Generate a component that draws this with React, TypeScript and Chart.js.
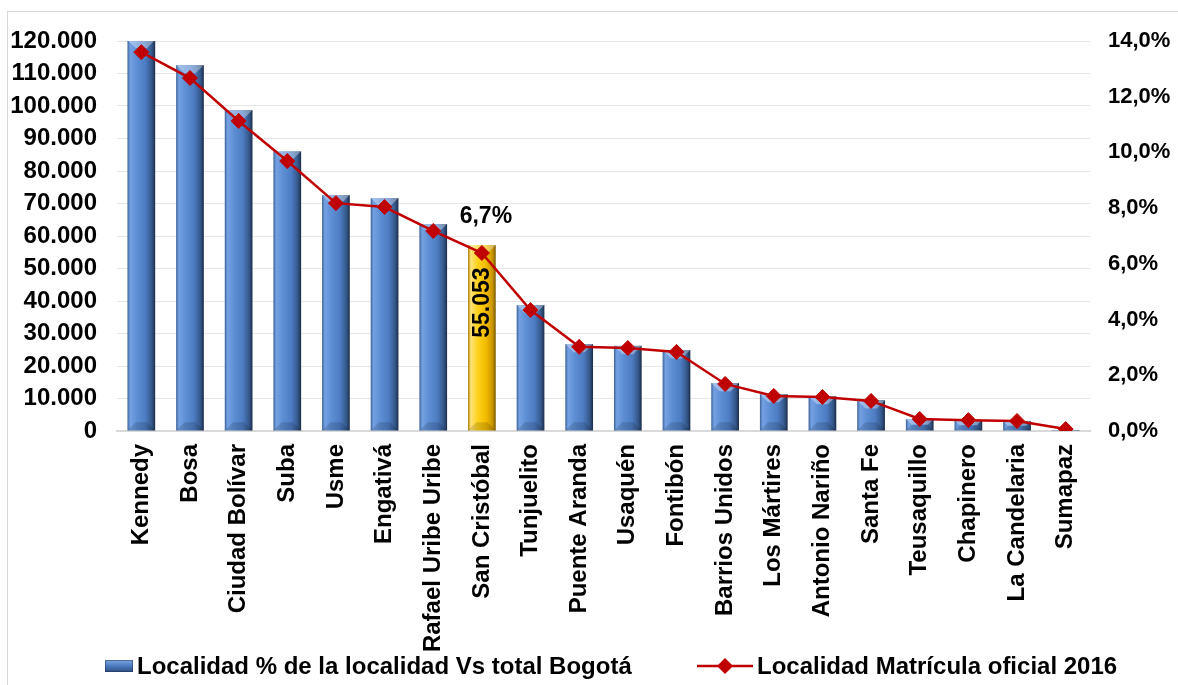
import { useEffect, useRef } from "react";
import { Chart, registerables } from "chart.js";

Chart.register(...registerables);

const categories = [
  "Kennedy", "Bosa", "Ciudad Bolívar", "Suba", "Usme", "Engativá", "Rafael Uribe Uribe",
  "San Cristóbal", "Tunjuelito", "Puente Aranda", "Usaquén", "Fontibón", "Barrios Unidos",
  "Los Mártires", "Antonio Nariño", "Santa Fe", "Teusaquillo", "Chapinero", "La Candelaria", "Sumapaz",
];
const barValues = [
  120300, 112600, 98800, 86100, 72600, 71700, 63700,
  57200, 38800, 26800, 26200, 24900, 14800,
  11400, 10800, 9500, 3700, 3400, 3100, 300,
];
const lineValues = [
  13.6, 12.67, 11.13, 9.69, 8.18, 8.04, 7.18,
  6.39, 4.34, 3.02, 2.98, 2.84, 1.69,
  1.26, 1.22, 1.08, 0.43, 0.39, 0.36, 0.07,
];
const barSeriesName = "Localidad % de la localidad Vs total Bogotá";
const lineSeriesName = "Localidad Matrícula oficial 2016";
const highlightIndex = 7;
const highlightBarLabel = "55.053";
const highlightLineLabel = "6,7%";
const leftMax = 120000;
const leftStep = 10000;
const rightMax = 14;
const rightStep = 2;

const FONT = "'Liberation Sans', Arial, sans-serif";
const BAR_PCT = 0.57;

function fmtThousands(v: number): string {
  return String(Math.round(v)).replace(/\B(?=(\d{3})+(?!\d))/g, ".");
}

function barGradient(c: CanvasRenderingContext2D, left: number, right: number, yellow: boolean) {
  const g = c.createLinearGradient(left, 0, right, 0);
  if (yellow) {
    g.addColorStop(0, "#a67c00");
    g.addColorStop(0.1, "#ffe37a");
    g.addColorStop(0.35, "#ffd21a");
    g.addColorStop(0.65, "#f2bb00");
    g.addColorStop(0.88, "#c99600");
    g.addColorStop(1, "#7a5a00");
  } else {
    g.addColorStop(0, "#3e6298");
    g.addColorStop(0.1, "#74a1e2");
    g.addColorStop(0.35, "#5d8dd4");
    g.addColorStop(0.65, "#4d7cc2");
    g.addColorStop(0.88, "#345789");
    g.addColorStop(1, "#1b2c4a");
  }
  return g;
}

const bevelPlugin = {
  id: "bevel",
  afterDatasetDraw(chart: any, args: any) {
    if (args.index !== 0) return;
    const c = chart.ctx;
    const meta = args.meta;
    c.save();
    const a = chart.chartArea;
    c.beginPath();
    c.rect(a.left, a.top, a.right - a.left, a.bottom - a.top);
    c.clip();
    meta.data.forEach((el: any) => {
      const half = el.width / 2;
      const top = el.y;
      const base = el.base;
      const h = base - top;
      const d = Math.min(half * 0.6, h / 2);
      // top chamfer
      c.beginPath();
      c.moveTo(el.x - half, top);
      c.lineTo(el.x + half, top);
      c.lineTo(el.x + half - d, top + d);
      c.lineTo(el.x - half + d, top + d);
      c.closePath();
      c.fillStyle = "rgba(255,255,255,0.35)";
      c.fill();
      // bottom chamfer
      c.beginPath();
      c.moveTo(el.x - half, base);
      c.lineTo(el.x + half, base);
      c.lineTo(el.x + half - d, base - d);
      c.lineTo(el.x - half + d, base - d);
      c.closePath();
      c.fillStyle = "rgba(0,0,0,0.14)";
      c.fill();
    });
    c.restore();
  },
};

const labelPlugin = {
  id: "highlightLabels",
  afterDatasetsDraw(chart: any) {
    const c = chart.ctx;
    const bar = chart.getDatasetMeta(0).data[highlightIndex];
    const pt = chart.getDatasetMeta(1).data[highlightIndex];
    c.save();
    c.fillStyle = "#000";
    c.font = `bold 23px ${FONT}`;
    c.textAlign = "center";
    c.textBaseline = "middle";
    if (pt) c.fillText(highlightLineLabel, pt.x + 4, pt.y - 36);
    if (bar) {
      const cy = bar.y + (bar.base - bar.y) * 0.31;
      c.translate(bar.x, cy);
      c.rotate(-Math.PI / 2);
      c.fillText(highlightBarLabel, 0, 1);
    }
    c.restore();
  },
};

export default function App() {
  const ref = useRef<HTMLCanvasElement | null>(null);

  useEffect(() => {
    if (!ref.current) return;
    const chart = new Chart(ref.current, {
      type: "bar",
      data: {
        labels: categories,
        datasets: [
          {
            type: "bar",
            label: barSeriesName,
            data: barValues,
            yAxisID: "y",
            order: 1,
            barPercentage: BAR_PCT,
            categoryPercentage: 1,
            borderWidth: 0,
            backgroundColor: (ctx: any) => {
              const chart = ctx.chart;
              const xs = chart.scales && chart.scales.x;
              if (!xs || !chart.chartArea) return "#4f81bd";
              const cx = xs.getPixelForValue(ctx.dataIndex);
              const half = (xs.width / categories.length) * BAR_PCT / 2;
              return barGradient(chart.ctx, cx - half, cx + half, ctx.dataIndex === highlightIndex);
            },
          } as any,
          {
            type: "line",
            label: lineSeriesName,
            data: lineValues,
            yAxisID: "y1",
            order: 0,
            borderColor: "#c00000",
            borderWidth: 2.5,
            backgroundColor: "#c00000",
            pointStyle: "rectRot",
            pointRadius: 7.5,
            pointBackgroundColor: "#c00000",
            pointBorderColor: "#c00000",
            pointBorderWidth: 1,
            tension: 0,
          } as any,
        ],
      },
      options: {
        responsive: false,
        animation: false,
        maintainAspectRatio: false,
        layout: { padding: { top: 41, left: 0, right: 0, bottom: 0 } },
        plugins: {
          legend: { display: false },
          tooltip: { enabled: false },
        },
        scales: {
          x: {
            offset: true,
            grid: { display: false },
            border: { display: true, color: "#d9d9d9", width: 2 },
            ticks: {
              autoSkip: false,
              minRotation: 90,
              maxRotation: 90,
              padding: 5,
              color: "#000",
              font: { family: FONT, size: 24, weight: "bold" },
            },
            afterFit: (s: any) => { s.height = 254; },
          },
          y: {
            position: "left",
            min: 0,
            max: leftMax,
            grid: { color: "#e6e6e6", lineWidth: 1, drawTicks: false },
            border: { display: false },
            ticks: {
              stepSize: leftStep,
              padding: 20,
              color: "#000",
              font: { family: FONT, size: 24, weight: "bold" },
              callback: (v: any) => fmtThousands(Number(v)),
            },
            afterFit: (s: any) => { s.width = 117; },
          },
          y1: {
            position: "right",
            min: 0,
            max: rightMax,
            grid: { display: false, drawTicks: false },
            border: { display: false },
            ticks: {
              stepSize: rightStep,
              padding: 18,
              color: "#000",
              font: { family: FONT, size: 22, weight: "bold" },
              callback: (v: any) => Number(v).toFixed(1).replace(".", ",") + "%",
            },
            afterFit: (s: any) => { s.width = 88; },
          },
        },
      } as any,
      plugins: [bevelPlugin, labelPlugin],
    });
    return () => chart.destroy();
  }, []);

  const legendText: any = {
    position: "absolute",
    top: 653,
    font: `bold 24px ${FONT}`,
    lineHeight: "26px",
    color: "#000",
    whiteSpace: "nowrap",
  };

  return (
    <div style={{ position: "fixed", left: 0, top: 0, width: 1178, height: 685, background: "#fff", overflow: "hidden" }}>
      <div style={{ position: "absolute", left: 7, top: 11, width: 1300, height: 800, border: "1px solid #d9d9d9" }} />
      <canvas ref={ref} width={1178} height={685} style={{ position: "absolute", left: 0, top: 0, width: 1178, height: 685 }} />
      <div style={{ position: "absolute", left: 105, top: 660, width: 28, height: 12, background: "linear-gradient(180deg, #7fa6e0 0%, #4f7fc4 45%, #2d4d80 100%)", boxShadow: "inset 0 0 0 1px rgba(30,50,90,0.5)" }} />
      <div style={{ ...legendText, left: 137 }}>{barSeriesName}</div>
      <svg style={{ position: "absolute", left: 697, top: 656 }} width={56} height={20}>
        <line x1={0} y1={10} x2={56} y2={10} stroke="#c00000" strokeWidth={2.5} />
        <polygon points="28,2 36,10 28,18 20,10" fill="#c00000" />
      </svg>
      <div style={{ ...legendText, left: 757 }}>{lineSeriesName}</div>
    </div>
  );
}
